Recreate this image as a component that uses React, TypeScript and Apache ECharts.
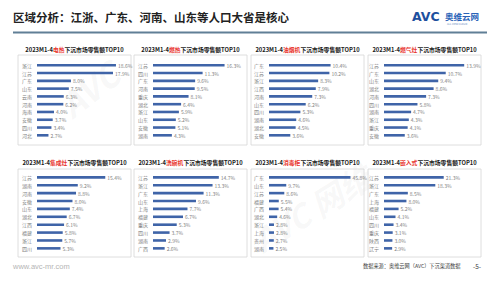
import React, { useEffect, useRef } from 'react';
import * as echarts from 'echarts';

const headerTitle = '区域分析：江浙、广东、河南、山东等人口大省是核心';
const productNames = ['电热', '燃热', '油烟机', '燃气灶', '集成灶', '洗碗机', '消毒柜', '嵌入式'];

const cats1 = ['浙江', '江苏', '广东', '山东', '云南', '河南', '海南', '安徽', '四川', '河北'];
const vals1 = [18.6, 17.9, 8.0, 7.5, 6.3, 6.2, 4.0, 3.7, 3.4, 2.7];
const cats2 = ['江苏', '四川', '广东', '河南', '重庆', '湖北', '浙江', '山东', '安徽', '湖南'];
const vals2 = [16.3, 11.3, 9.6, 9.5, 8.1, 6.4, 5.9, 5.2, 5.1, 4.3];
const cats3 = ['广东', '江苏', '浙江', '江西', '河南', '山东', '四川', '湖南', '湖北', '安徽'];
const vals3 = [10.4, 10.2, 8.3, 7.9, 7.3, 6.2, 5.3, 4.6, 4.5, 3.6];
const cats4 = ['江苏', '广东', '山东', '湖北', '河南', '四川', '湖南', '浙江', '重庆', '安徽'];
const vals4 = [13.9, 10.7, 9.4, 8.6, 7.3, 5.8, 4.7, 4.3, 4.1, 3.6];
const cats5 = ['江苏', '湖南', '河南', '安徽', '山东', '湖北', '江西', '福建', '浙江', '四川'];
const vals5 = [15.4, 9.2, 8.8, 8.0, 7.4, 6.7, 6.1, 5.8, 5.7, 5.3];
const cats6 = ['江苏', '浙江', '广东', '山东', '上海', '福建', '重庆', '四川', '湖南', '广西'];
const vals6 = [14.7, 13.3, 11.3, 9.6, 7.7, 6.7, 5.3, 3.7, 2.9, 2.6];
const cats7 = ['广东', '山东', '江苏', '福建', '广西', '湖北', '浙江', '上海', '贵州', '湖南'];
const vals7 = [45.8, 9.7, 8.6, 5.5, 5.4, 4.6, 2.8, 2.8, 2.7, 2.5];
const cats8 = ['江苏', '浙江', '广东', '上海', '福建', '山东', '四川', '重庆', '陕西', '辽宁'];
const vals8 = [21.3, 18.3, 8.5, 8.0, 5.2, 4.1, 3.4, 3.1, 3.0, 2.9];

const allCats = [cats1, cats2, cats3, cats4, cats5, cats6, cats7, cats8];
const allVals = [vals1, vals2, vals3, vals4, vals5, vals6, vals7, vals8];
const axisMax = [21.2, 20.5, 15.2, 15.6, 20.3, 20.1, 50.6, 32.1];

const FONT = '"Noto Sans CJK SC", "Noto Sans", sans-serif';
const BAR = '#3F64A8';
const GREY = '#7f7f7f';
const WM = 'rgba(150,150,150,0.07)';

export default function App() {
  const ref = useRef<HTMLDivElement>(null);
  useEffect(() => {
    if (!ref.current) return;
    const chart = echarts.init(ref.current, undefined, { renderer: 'svg' });

    const boxX = [18, 134, 251, 368];
    const boxW = 113;
    const boxTop = [55, 169];
    const boxH = [90, 88];
    const gridLeft = [37, 153, 269, 384];
    const gridW = 90;
    const gridTop = [61.4, 173.4];
    const gridH = [77.8, 78.9];
    const titleY = [49, 162];

    const grids: any[] = [];
    const xAxes: any[] = [];
    const yAxes: any[] = [];
    const series: any[] = [];
    const graphics: any[] = [];

    // faint watermarks
    graphics.push({
      type: 'text', x: 74, y: 122, rotation: (38 * Math.PI) / 180, z: 0, silent: true,
      style: { text: 'AVC', fontSize: 34, fontWeight: 'bold', fontStyle: 'italic', fontFamily: FONT, fill: WM, verticalAlign: 'bottom', textVerticalAlign: 'bottom' },
    });
    graphics.push({
      type: 'text', x: 264, y: 256, rotation: (32 * Math.PI) / 180, z: 0, silent: true,
      style: { text: 'AVC 网维', fontSize: 32, fontWeight: 'bold', fontStyle: 'italic', fontFamily: FONT, fill: WM, verticalAlign: 'bottom', textVerticalAlign: 'bottom' },
    });

    for (let i = 0; i < 8; i++) {
      const r = Math.floor(i / 4);
      const c = i % 4;
      grids.push({ left: gridLeft[c], top: gridTop[r], width: gridW, height: gridH[r] });
      xAxes.push({ type: 'value', gridIndex: i, min: 0, max: axisMax[i], show: false });
      yAxes.push({
        type: 'category', gridIndex: i, data: allCats[i], inverse: true,
        axisLine: { show: false }, axisTick: { show: false }, splitLine: { show: false },
        axisLabel: { interval: 0, fontSize: 5, color: GREY, margin: 5, fontFamily: FONT },
      });
      series.push({
        type: 'bar', xAxisIndex: i, yAxisIndex: i, data: allVals[i], barWidth: 2.6,
        itemStyle: { color: BAR },
        label: {
          show: true, position: 'right', distance: 2, fontSize: 5, color: GREY, fontFamily: FONT,
          formatter: (p: any) => Number(p.value).toFixed(1) + '%',
        },
      });
      graphics.push({
        type: 'rect', z: 1,
        shape: { x: boxX[c], y: boxTop[r], width: boxW, height: boxH[r] },
        style: { fill: 'none', stroke: '#d6d6d6', lineWidth: 0.8 },
      });
      graphics.push({
        type: 'text', x: boxX[c] + boxW / 2, y: titleY[r], z: 2,
        style: {
          text: '{a|2023M1-4}{r|' + productNames[i] + '}{a|下沉市场零售额TOP10}',
          align: 'center', verticalAlign: 'middle', textAlign: 'center', textVerticalAlign: 'middle',
          rich: {
            a: { fontSize: 5.8, fontWeight: 'bold', fill: '#1a1a1a', color: '#1a1a1a', fontFamily: FONT },
            r: { fontSize: 5.8, fontWeight: 'bold', fill: '#e8322b', color: '#e8322b', fontFamily: FONT },
          },
        },
      });
    }

    // header
    graphics.push({
      type: 'text', x: 13, y: 17, z: 2,
      style: { text: headerTitle, fontSize: 11.5, fontWeight: 'bold', fill: '#222', fontFamily: FONT, verticalAlign: 'middle', textVerticalAlign: 'middle' },
    });
    graphics.push({
      type: 'line', z: 2, shape: { x1: 13, y1: 32.5, x2: 487, y2: 32.5 },
      style: { stroke: '#607f96', lineWidth: 1.8 },
    });
    // logo
    graphics.push({
      type: 'text', x: 412, y: 16, z: 2,
      style: { text: 'AVC', fontSize: 12.5, fontWeight: 900, fill: '#1d4f9e', fontFamily: '"DejaVu Sans", sans-serif', verticalAlign: 'middle', textVerticalAlign: 'middle' },
    });
    graphics.push({
      type: 'text', x: 445, y: 15.5, z: 2,
      style: { text: '奥维云网', fontSize: 8.5, fontWeight: 'bold', fill: '#2a63b8', fontFamily: FONT, verticalAlign: 'middle', textVerticalAlign: 'middle' },
    });
    graphics.push({
      type: 'text', x: 447, y: 23.5, z: 2,
      style: { text: 'ALL VIEW CLOUD', fontSize: 2.6, fill: '#6a8bc4', fontFamily: FONT, verticalAlign: 'middle', textVerticalAlign: 'middle' },
    });
    // footer
    graphics.push({
      type: 'text', x: 13, y: 266, z: 2,
      style: { text: 'www.avc-mr.com', fontSize: 7.5, fill: '#b5b5b5', fontFamily: '"Liberation Sans", Arial, sans-serif', verticalAlign: 'middle', textVerticalAlign: 'middle' },
    });
    graphics.push({
      type: 'text', x: 363, y: 265.5, z: 2,
      style: { text: '数据来源：奥维云网（AVC）下沉渠道数据', fontSize: 5.2, fill: '#404040', fontFamily: FONT, verticalAlign: 'middle', textVerticalAlign: 'middle' },
    });
    graphics.push({
      type: 'text', x: 473, y: 265.5, z: 2,
      style: { text: '-5-', fontSize: 6.5, fill: '#404040', fontFamily: FONT, verticalAlign: 'middle', textVerticalAlign: 'middle' },
    });

    chart.setOption({
      animation: false,
      backgroundColor: '#ffffff',
      grid: grids,
      xAxis: xAxes,
      yAxis: yAxes,
      series,
      graphic: graphics,
    });
    return () => chart.dispose();
  }, []);
  return <div ref={ref} style={{ position: 'absolute', left: 0, top: 0, width: 500, height: 281, background: '#fff' }} />;
}
